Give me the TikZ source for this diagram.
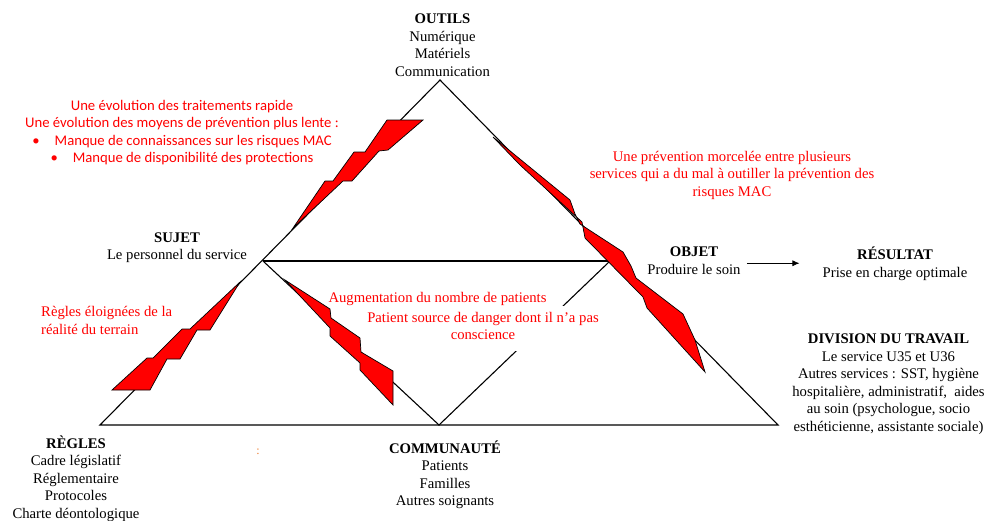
\documentclass[tikz,border=0pt]{standalone}
\usepackage{fontspec}
\setmainfont{Liberation Serif}
\newfontfamily\calibri{Carlito}
\usetikzlibrary{positioning, arrows.meta}
\definecolor{orangeMS}{RGB}{237,125,49}

\begin{document}
\begin{tikzpicture}[x=1pt, y=-1pt,
  every node/.style={font=\fontsize{14.7}{17.5}\selectfont, inner sep=0pt, align=center,
    execute at begin node=\strut, execute at end node=\strut},
  bloc/.style={anchor=north},
  rouge/.style={text=red},
  cote/.style={line width=1.1pt},
  eclair/.style={draw=black, fill=red, line width=0.7pt, line join=miter},
  fleche/.style={-{Latex[length=7pt,width=6pt]}, line width=0.8pt}]
\useasboundingbox (0,0) rectangle (984,520);

% sommets
\coordinate (sommet) at (440,80);
\coordinate (coinG) at (100,425);
\coordinate (coinD) at (778,425);
\coordinate (milG) at (263,261);
\coordinate (milD) at (610,261);
\coordinate (milB) at (439,425);

\draw[cote] (coinG) -- (sommet) -- (coinD) -- cycle;
\draw[cote] (milG) -- (milD);
\draw[cote] (milG) -- (milB) -- (milD);

% poles
\node[bloc] (outils) at (442.5,14) {\textbf{OUTILS}\\Numérique\\Matériels\\Communication};
\node[bloc] (sujet) at (177,232.4) {\textbf{SUJET}\\Le personnel du service};
\node[bloc] (objet) at (694,246.8) {\textbf{OBJET}\\Produire le soin};
\node[bloc] (resultat) at (895,246.8) {\textbf{RÉSULTAT}\\Prise en charge optimale};
\node[bloc] (division) at (888.5,334) {\textbf{DIVISION DU TRAVAIL}\\Le service U35 et U36\\Autres services : SST, hygiène\\hospitalière, administratif, \ aides\\au soin (psychologue, socio\\esthéticienne, assistante sociale)};
\node[bloc] (regles) at (76,435.4) {\textbf{RÈGLES}\\Cadre législatif\\Réglementaire\\Protocoles\\Charte déontologique};
\node[bloc] (communaute) at (445,440.4) {\textbf{COMMUNAUTÉ}\\Patients\\Familles\\Autres soignants};
\node[text=orangeMS, font=\fontsize{12}{14}\selectfont] (deuxpts) at (258,452) {:};

\draw[fleche] ([xshift=6pt]objet.east) -- ([xshift=-23pt]objet.east -| resultat.west);

% tensions
\node[bloc, rouge, font=\calibri\fontsize{14.7}{17.5}\selectfont] (tension1) at (182,99.8)
  {Une évolution des traitements rapide\\Une évolution des moyens de prévention plus lente :\\
   \textbullet\hspace{15pt}Manque de connaissances sur les risques MAC\\
   \textbullet\hspace{15pt}Manque de disponibilité des protections};
\node[bloc, rouge] (tension2) at (732,151)
  {Une prévention morcelée entre plusieurs\\services qui a du mal à outiller la prévention des\\risques MAC};
\node[bloc, rouge, anchor=north west, align=left] (tension3) at (41,306.4)
  {Règles éloignées de la\\réalité du terrain};
\node[bloc, rouge, fill=white, inner xsep=2pt, inner ysep=6pt] (tension5) at (483,306)
  {Patient source de danger dont il n’a pas\\conscience};
\node[bloc, rouge, anchor=north west] (tension4) at (328.3,289.8)
  {Augmentation du nombre de patients};

% eclairs
\draw[eclair] (293,228) -- (325,181) -- (333,181) -- (354,152) -- (365,152) -- (387,120)
  -- (423,120) -- (388,150) -- (379,151) -- (352,181) -- (343,181) -- cycle;
\draw[eclair] (240,282) -- (190,329) -- (182,329) -- (153,358) -- (147,358) -- (112,390)
  -- (150,390) -- (167,359) -- (180,359) -- (197,330) -- (210,330) -- cycle;
\draw[eclair] (285,280) -- (330,309) -- (331,318) -- (360,338) -- (361,352) -- (393,371)
  -- (393,405) -- (360,370) -- (360,363) -- (330,336) -- (330,328) -- cycle;
\draw[eclair] (493,137) -- (570,200) -- (575,214) -- (580,224) -- (623,252) -- (631,266)
  -- (636,278) -- (683,314) -- (695,340) -- (705,372) -- (647,308) -- (643,297)
  -- (585,238) -- (582,222) -- (520,165) -- cycle;
\end{tikzpicture}
\end{document}
